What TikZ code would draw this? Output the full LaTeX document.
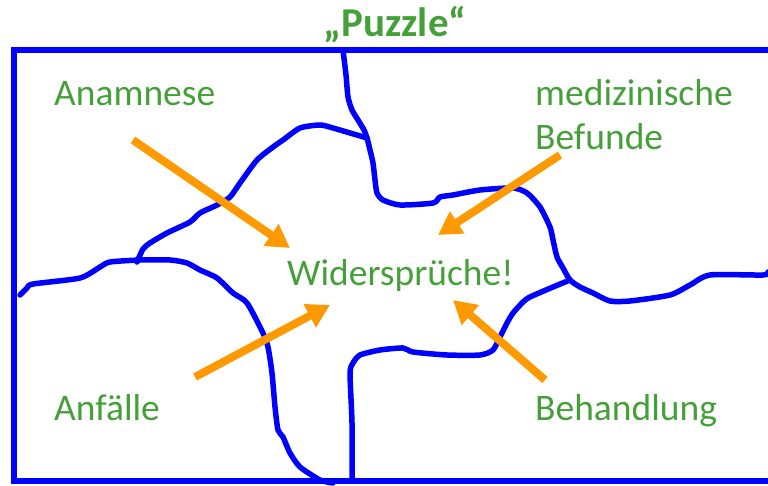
\documentclass[tikz,border=0pt]{standalone}
\usepackage{fontspec}
\setmainfont{Carlito}
\usetikzlibrary{arrows.meta}
\definecolor{txtgreen}{RGB}{70,160,58}
\definecolor{puzblue}{RGB}{0,0,255}
\definecolor{arrorange}{RGB}{255,153,0}
\tikzset{
  lbl/.style={anchor=base west, inner sep=0pt, text=txtgreen, font=\fontsize{37.5}{45}\selectfont, align=left},
  piece/.style={draw=puzblue, line width=5.5pt, line join=round, line cap=round},
  hint/.style={draw=arrorange, line width=8pt, -{Triangle[length=23pt,width=25pt]}},
}
\begin{document}
\begin{tikzpicture}[x=1pt,y=-1pt]
\useasboundingbox (0,0) rectangle (768,486);
\begin{scope}
\clip (0,0) rectangle (768,486);
% frame
\draw[piece, line cap=butt, line join=miter] (14,50) rectangle (790,481);
% puzzle lines
\draw[piece] plot[smooth, tension=0.4] coordinates {(343,50) (346,75) (348,97) (352,110) (358,120) (364,130) (367,138) (370,150) (373,163) (375,180) (377,193) (383,200) (400,205) (433,203) (440,197) (453,195) (480,190) (513,188) (527,193) (540,207) (550,227) (553,240) (557,257) (563,268) (570,280) (580,287) (593,293) (610,301) (630,301) (670,295) (690,285) (710,275) (763,275) (768,272)};
\draw[piece] plot[smooth, tension=0.4] coordinates {(570,280) (553,287) (530,297) (523,302) (513,313) (507,323) (500,337) (493,350) (480,355) (447,355) (413,352) (403,348) (380,350) (360,355) (353,363) (350,373) (352,423) (352,481)};
\draw[piece] plot[smooth, tension=0.4] coordinates {(20,295) (27,288) (33,284) (80,278) (100,267) (110,262) (140,260) (170,260) (187,263) (200,270) (217,278) (233,293) (247,303) (263,333) (268,347) (272,373) (275,407) (278,430) (283,437) (290,453) (300,467) (320,480) (333,483)};
\draw[piece] plot[smooth, tension=0.4] coordinates {(137,262) (143,249) (150,243) (167,233) (190,222) (200,213) (217,205) (230,197) (240,183) (257,160) (273,147) (283,140) (300,128) (320,125) (333,128) (367,138)};
\end{scope}
% texts
\node[anchor=base, inner sep=0pt, text=txtgreen, font=\fontsize{41}{48}\selectfont\bfseries] (title) at (395,37) {„Puzzle“};
\node[lbl] (anam) at (54,106) {Anamnese};
\node[lbl] (befu1) at (535,106) {medizinische};
\node[lbl] (befu2) at (535,150) {Befunde};
\node[lbl] (wid) at (287,285) {Widersprüche!};
\node[lbl] (anf) at (54,420) {Anfälle};
\node[lbl] (beh) at (535,420) {Behandlung};
% arrows
\coordinate (a1s) at (133,140); \coordinate (a1e) at (290,248);
\coordinate (a2s) at (560,155); \coordinate (a2e) at (438,235);
\coordinate (a3s) at (195,377); \coordinate (a3e) at (330,305);
\coordinate (a4s) at (545,380); \coordinate (a4e) at (453,300);
\draw[hint] (a1s) -- (a1e);
\draw[hint] (a2s) -- (a2e);
\draw[hint] (a3s) -- (a3e);
\draw[hint] (a4s) -- (a4e);
\end{tikzpicture}
\end{document}
